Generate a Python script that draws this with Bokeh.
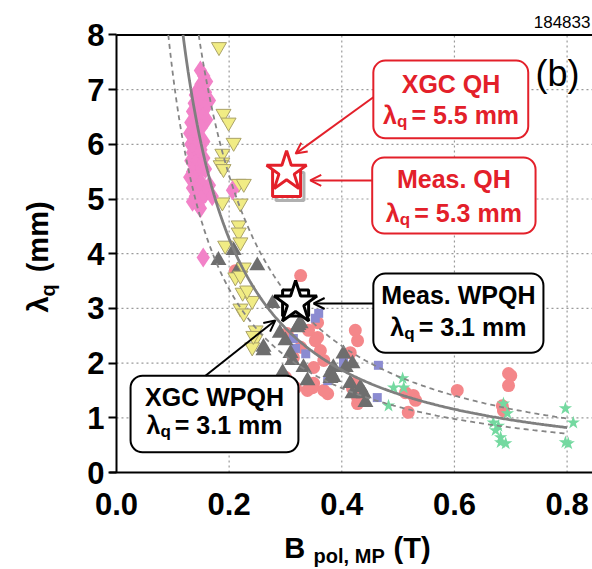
import numpy as np
from bokeh.plotting import figure
from bokeh.models import Range1d, FixedTicker, Label, Arrow, OpenHead, PrintfTickFormatter
from bokeh.embed import file_html
from bokeh.resources import INLINE

# ---------------- data ----------------
pink_x = [0.149, 0.155, 0.160, 0.150, 0.145, 0.158, 0.140, 0.152, 0.165, 0.138,
          0.148, 0.157, 0.135, 0.145, 0.153, 0.160, 0.132, 0.140, 0.150, 0.130,
          0.138, 0.146, 0.155, 0.132, 0.140, 0.150, 0.135, 0.145, 0.155, 0.132,
          0.140, 0.150, 0.158, 0.135, 0.145, 0.130, 0.140, 0.150, 0.165, 0.135,
          0.145, 0.158, 0.170, 0.140, 0.150, 0.135, 0.145, 0.149, 0.206, 0.154]
pink_y = [7.35, 7.25, 7.15, 7.10, 7.00, 6.95, 6.90, 6.85, 6.80, 6.75,
          6.70, 6.65, 6.60, 6.55, 6.50, 6.45, 6.40, 6.35, 6.30, 6.20,
          6.15, 6.10, 6.05, 6.00, 5.95, 5.90, 5.85, 5.80, 5.75, 5.70,
          5.65, 5.60, 5.55, 5.50, 5.45, 5.40, 5.35, 5.30, 5.25, 5.20,
          5.15, 5.10, 5.05, 5.05, 5.00, 4.95, 4.90, 4.83, 5.16, 3.93]

yellow_x = [0.182, 0.190, 0.199, 0.208, 0.188, 0.188, 0.185, 0.190, 0.217, 0.226,
            0.188, 0.220, 0.217, 0.217, 0.193, 0.220, 0.226, 0.211, 0.220, 0.224,
            0.241, 0.220, 0.226, 0.247, 0.247, 0.241, 0.232, 0.243]
yellow_y = [7.78, 6.56, 6.40, 6.03, 5.83, 5.67, 5.62, 5.55, 5.28, 5.28,
            4.94, 4.92, 4.52, 4.39, 4.15, 4.21, 3.75, 3.57, 3.60, 3.29,
            3.14, 3.00, 2.91, 2.60, 2.45, 2.29, 3.33, 2.50]

gray_x = [0.181, 0.208, 0.250, 0.215, 0.277, 0.323, 0.300, 0.261, 0.312, 0.332,
          0.295, 0.339, 0.309, 0.327, 0.380, 0.380, 0.403, 0.419, 0.407, 0.385,
          0.415, 0.433, 0.439, 0.419, 0.442, 0.385, 0.261, 0.321, 0.290]
gray_y = [3.88, 4.06, 3.78, 3.69, 3.09, 2.69, 2.41, 2.29, 2.05, 1.92,
          1.83, 1.68, 2.18, 2.72, 1.72, 1.83, 2.17, 1.99, 1.92, 1.92,
          1.63, 1.55, 1.44, 1.44, 1.28, 1.74, 2.23, 2.65, 2.55]

salmon_x = [0.211, 0.327, 0.357, 0.341, 0.424, 0.415, 0.327, 0.362, 0.314, 0.350,
            0.339, 0.375, 0.428, 0.428, 0.419, 0.357, 0.428, 0.303, 0.300, 0.348,
            0.368, 0.368, 0.424, 0.353, 0.318, 0.350, 0.513, 0.527, 0.531, 0.518,
            0.605, 0.696, 0.700, 0.696, 0.685, 0.687]
salmon_y = [3.69, 3.60, 2.74, 2.60, 2.60, 2.19, 2.29, 2.23, 2.10, 1.92,
            1.50, 1.44, 1.37, 1.26, 1.54, 2.47, 2.41, 2.54, 1.74, 1.55,
            1.50, 2.05, 1.63, 2.41, 1.55, 1.63, 1.46, 1.41, 1.32, 1.10,
            1.50, 1.81, 1.77, 1.59, 1.22, 1.13]

lav_x = [0.359, 0.353, 0.318, 0.336, 0.403, 0.465, 0.463, 0.375, 0.314, 0.403]
lav_y = [2.91, 2.82, 2.27, 2.17, 1.99, 1.96, 1.37, 1.68, 2.45, 2.05]

green_x = [0.508, 0.492, 0.510, 0.483, 0.687, 0.694, 0.669, 0.673, 0.682, 0.691,
           0.682, 0.678, 0.797, 0.811, 0.802, 0.797]
green_y = [1.72, 1.55, 1.55, 1.22, 1.26, 1.08, 0.91, 0.77, 0.64, 0.53,
           0.55, 0.85, 1.17, 0.91, 0.53, 0.55]

# highlighted cases: XGC QH, Meas. QH, XGC WPQH, Meas. WPQH
case_names = ["XGC QH", "Meas. QH", "XGC WPQH", "Meas. WPQH"]
case_x = [0.302, 0.302, 0.318, 0.318]
case_y = [5.5, 5.3, 3.1, 3.1]
case_lq = ["5.5", "5.3", "3.1", "3.1"]

x_ticks = [0.0, 0.2, 0.4, 0.6, 0.8]
y_ticks = [0, 1, 2, 3, 4, 5, 6, 7, 8]
x_max, y_max = 0.8451, 8.0

# scaling fit lambda_q = C * Bpol^-a and its bounds
fit_coef, fit_exp = 0.63, 1.19
upper_coef, upper_exp = 0.75, 1.23
lower_coef, lower_exp = 0.553, 1.12
fit_x_end = 0.8

shot_label = "184833"
panel_label = "(b)"

# ---------------- figure ----------------
FONT = "Liberation Sans"
RED = "#e3202a"
W, H = 592, 569
XR = (-0.2059, x_max)
YR = (-1.773, 8.629)
PX_X = W / (XR[1] - XR[0])      # pixels per data unit
PX_Y = H / (YR[1] - YR[0])

# the frame covers the whole canvas; axes are pinned at x=0 / y=0
p = figure(width=W, height=H, output_backend="svg", toolbar_location=None,
           x_range=Range1d(*XR), y_range=Range1d(*YR),
           min_border=0, min_border_left=0, min_border_right=0,
           min_border_top=0, min_border_bottom=0)
p.outline_line_color = None
p.background_fill_color = "white"
p.border_fill_color = "white"
p.xgrid.visible = False
p.ygrid.visible = False

p.xaxis.fixed_location = 0
p.yaxis.fixed_location = 0
p.xaxis.bounds = (-0.012, x_max)
p.yaxis.bounds = (0, y_max)
p.xaxis.ticker = FixedTicker(ticks=x_ticks)
p.yaxis.ticker = FixedTicker(ticks=y_ticks)
p.xaxis.formatter = PrintfTickFormatter(format="%.1f")

for ax in (p.xaxis[0], p.yaxis[0]):
    ax.axis_line_width = 2
    ax.axis_line_color = "black"
    ax.major_tick_line_width = 2
    ax.major_tick_line_color = "black"
    ax.minor_tick_line_color = None
    ax.major_label_text_font = FONT
    ax.major_label_text_font_style = "bold"
    ax.major_label_text_font_size = "31px"
    ax.major_label_text_color = "black"
p.yaxis.major_tick_out = 8
p.yaxis.major_tick_in = 0
p.yaxis.major_label_standoff = 4
p.xaxis.major_tick_out = 0
p.xaxis.major_tick_in = 0
p.xaxis.major_label_standoff = 20

# dotted grid inside the data area, and the top frame line
gx = x_ticks[1:]
p.segment(x0=gx, y0=[0] * len(gx), x1=gx, y1=[y_max] * len(gx),
          line_color="#9a9a9a", line_dash="2 3", line_width=1.2)
gy = y_ticks[1:-1]
p.segment(x0=[0] * len(gy), y0=gy, x1=[x_max] * len(gy), y1=gy,
          line_color="#9a9a9a", line_dash="2 3", line_width=1.2)
p.segment(x0=[0], y0=[y_max], x1=[x_max], y1=[y_max], line_color="black",
          line_width=2)

# ---------------- data points ----------------
p.scatter(salmon_x, salmon_y, marker="circle", size=13, fill_color="#f4878a",
          line_color=None)
p.scatter(lav_x, lav_y, marker="square", size=9, fill_color="#8b8bd1",
          line_color=None)
p.scatter(gray_x, gray_y, marker="triangle", size=16, fill_color="#6e6e6e",
          line_color=None)
p.scatter(yellow_x, yellow_y, marker="inverted_triangle", size=15,
          fill_color="#f1ec84", line_color="#aaa268", line_width=1)
p.scatter(pink_x, pink_y, marker="diamond", size=20, fill_color="#f282c8",
          line_color=None)
p.scatter(green_x, green_y, marker="star", size=14, fill_color="#74d9a0",
          line_color=None)

# ---------------- curves ----------------
def power_curve(coef, expo, y_top=y_max, x_end=fit_x_end, n=300):
    x0 = (coef / y_top) ** (1.0 / expo)
    xs = np.linspace(x0, x_end, n)
    return xs, coef * xs ** (-expo)

ux, uy = power_curve(upper_coef, upper_exp)
lx, ly = power_curve(lower_coef, lower_exp)
fx, fy = power_curve(fit_coef, fit_exp)
p.line(ux, uy, line_color="#858585", line_width=1.8, line_dash="5 4")
p.line(lx, ly, line_color="#858585", line_width=1.8, line_dash="5 4")
p.line(fx, fy, line_color="#7f7f7f", line_width=2.8)

# ---------------- highlighted cases ----------------
p.scatter([case_x[1] + 0.006], [case_y[1] - 0.07], marker="square", size=28,
          fill_color=None, line_color="#b0b0b0", line_width=3)
p.scatter([case_x[1]], [case_y[1]], marker="square", size=28, fill_color="white",
          line_color=RED, line_width=3)
p.scatter([case_x[0]], [case_y[0]], marker="star", size=42, fill_color="white",
          line_color=RED, line_width=3)
p.scatter([case_x[3]], [case_y[3]], marker="square", size=26, fill_color="white",
          line_color="black", line_width=3)
p.scatter([case_x[2]], [case_y[2]], marker="star", size=45, fill_color="white",
          line_color="black", line_width=3)

# ---------------- text helper ----------------
BASE_SHIFT = 0.35   # renderer puts the alphabetic baseline this many em low


def add_text(x, y, text, size, color="black", bold=True, align="left",
             rotated=False, x_offset=0):
    """Place text with its alphabetic baseline at (x, y) in data units."""
    if rotated:
        x = x - BASE_SHIFT * size / PX_X
    else:
        y = y + BASE_SHIFT * size / PX_Y
    p.add_layout(Label(x=x, y=y, x_offset=x_offset, text=text,
                       angle=(np.pi / 2 if rotated else 0),
                       text_align=align, text_baseline="alphabetic",
                       text_font=FONT,
                       text_font_style=("bold" if bold else "normal"),
                       text_font_size=f"{size}px", text_color=color))


# ---------------- annotation boxes ----------------
box_left = [0.456, 0.454, 0.025, 0.456]
box_right = [0.731, 0.744, 0.323, 0.758]
box_top = [7.53, 5.76, 1.77, 3.64]
box_bottom = [6.11, 4.37, 0.37, 2.19]
box_color = [RED, RED, "black", "black"]
p.quad(left=box_left, right=box_right, top=box_top, bottom=box_bottom,
       fill_color="white", line_color=box_color, line_width=2, border_radius=12)

text_cx = [0.594, 0.599, 0.174, 0.607]
text_y1 = [6.95, 5.21, 1.22, 3.09]
text_y2 = [6.38, 4.59, 0.71, 2.50]

FS, FSUB = 25, 17
for name, lq, cx, y1, y2, col in zip(case_names, case_lq, text_cx, text_y1,
                                     text_y2, box_color):
    add_text(cx, y1, name, FS, col, align="center")
    w_l = 0.56 * FS
    w_q = 0.611 * FSUB
    rest = f"= {lq} mm"
    w_r = 4.31 * FS
    start = -(w_l + w_q + 4 + w_r) / 2
    add_text(cx, y2, "λ", FS, col, x_offset=start)
    add_text(cx, y2 - 4 / PX_Y, "q", FSUB, col, x_offset=start + w_l)
    add_text(cx, y2, rest, FS, col, x_offset=start + w_l + w_q + 4)

# arrows
arr_x0 = [0.456, 0.454, 0.158, 0.456]
arr_y0 = [6.86, 5.34, 1.77, 3.09]
arr_x1 = [0.318, 0.344, 0.282, 0.350]
arr_y1 = [5.83, 5.34, 2.78, 3.09]
for xa, ya, xb, yb, col in zip(arr_x0, arr_y0, arr_x1, arr_y1, box_color):
    p.add_layout(Arrow(end=OpenHead(size=11, line_color=col, line_width=2),
                       x_start=xa, y_start=ya, x_end=xb, y_end=yb,
                       line_color=col, line_width=2))

# ---------------- corner texts ----------------
add_text(0.8415, 8.135, shot_label, 17, bold=False, align="right")
add_text(0.744, 7.07, panel_label, 36, bold=False)

# ---------------- axis titles (with subscripts) ----------------
AX_FS, AX_SUB = 29, 20
add_text(-0.1207, 2.925, "λ", AX_FS, rotated=True)
add_text(-0.1100, 3.22, "q", AX_SUB, rotated=True)
add_text(-0.1207, 3.66, "(mm)", AX_FS, rotated=True)
add_text(0.298, -1.57, "B", AX_FS)
add_text(0.350, -1.65, "pol, MP", AX_SUB)
add_text(0.492, -1.57, "(T)", AX_FS)

open("out.html", "w").write(file_html(p, INLINE))
